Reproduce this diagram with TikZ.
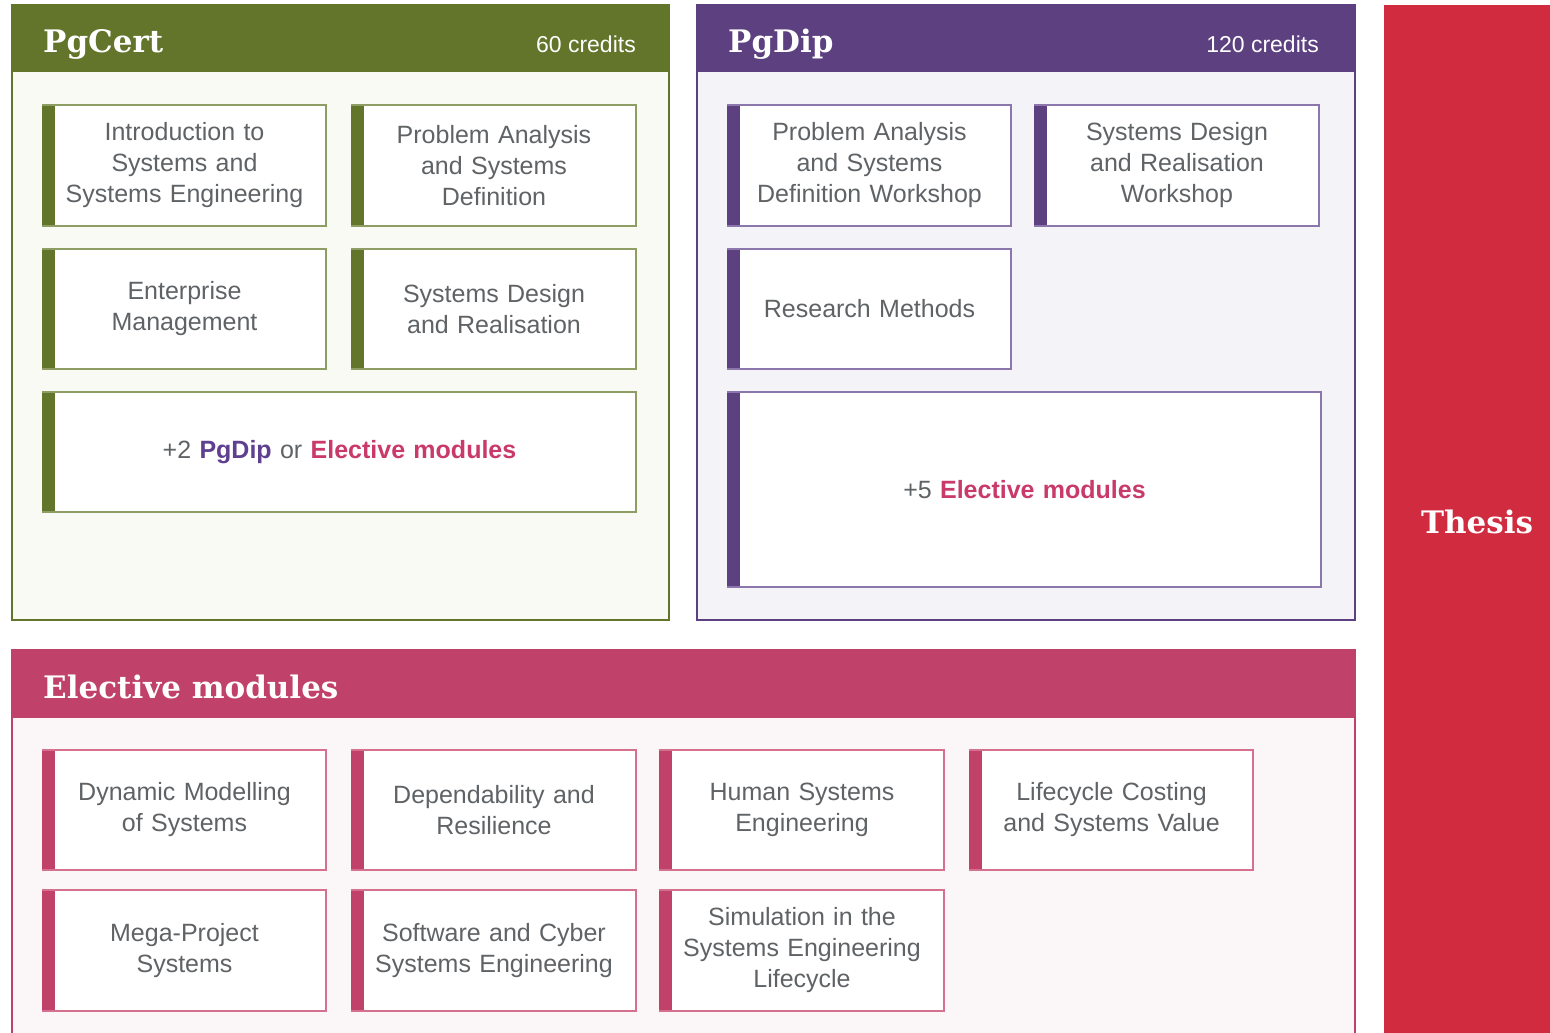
\documentclass[tikz,border=0pt]{standalone}
\usepackage{fontspec}
\setmainfont{Liberation Sans}
\newfontfamily\headfont{DejaVu Serif}
\definecolor{certc}{HTML}{62752A}
\definecolor{certl}{HTML}{8E9D63}
\definecolor{certbg}{HTML}{F9FAF4}
\definecolor{dipc}{HTML}{5C4080}
\definecolor{dipl}{HTML}{8B77AB}
\definecolor{dipbg}{HTML}{F4F3F8}
\definecolor{elc}{HTML}{C0426A}
\definecolor{ell}{HTML}{D5708F}
\definecolor{elbg}{HTML}{FBF6F8}
\definecolor{thc}{HTML}{D12B40}
\definecolor{txt}{HTML}{606366}
\definecolor{pgdiptxt}{HTML}{5E3F90}
\definecolor{eltxt}{HTML}{C93A6A}
\newcommand\modbox[7]{%
  \pgfmathsetmacro\modtw{#4-12}%
  \node[modnode, draw=#6l, text width=\modtw pt] (#1) at (#2,#3) [minimum width=#4pt, minimum height=#5pt] {#7};
  \fill[#6c] ([xshift=-1pt,yshift=-1pt]#1.north west) rectangle ([xshift=12pt,yshift=1pt]#1.south west);
}
\begin{document}
\begin{tikzpicture}[x=1pt,y=-1pt,
  frame/.style={draw=#1, line width=2.5pt, anchor=north west, inner sep=0pt, outer sep=0pt},
  band/.style={fill=#1, anchor=north west, inner sep=0pt, outer sep=0pt},
  headtxt/.style={text=white, font=\headfont\bfseries\fontsize{31}{36}\selectfont, anchor=base west, inner sep=0pt},
  credtxt/.style={text=white, font=\fontsize{23}{27}\selectfont, anchor=base east, inner sep=0pt},
  modnode/.style={fill=white, line width=2pt, inner sep=0pt, outer sep=0pt, text=txt,
     align=center, font=\fontsize{25}{31}\selectfont},
]
\useasboundingbox (0,0) rectangle (1550,1033);

% PgCert
\node[frame=certc, fill=certbg, minimum width=657pt, minimum height=615pt] (cert) at (12,5) {};
\node[band=certc, minimum width=657pt, minimum height=67pt] (certhead) at (12,5) {};
\node[headtxt] (certtitle) at (43,53) {PgCert};
\node[credtxt] (certcred) at (636,53) {60 credits};

% PgDip
\node[frame=dipc, fill=dipbg, minimum width=658pt, minimum height=615pt] (dip) at (697,5) {};
\node[band=dipc, minimum width=658pt, minimum height=67pt] (diphead) at (697,5) {};
\node[headtxt] (diptitle) at (728,53) {PgDip};
\node[credtxt] (dipcred) at (1319,53) {120 credits};

% Electives
\node[frame=elc, fill=elbg, minimum width=1343pt, minimum height=420pt] (elec) at (12,650) {};
\node[band=elc, minimum width=1343pt, minimum height=68pt] (elechead) at (12,650) {};
\node[headtxt] (electitle) at (43,698) {Elective modules};

% Thesis
\node[band=thc, minimum width=166pt, minimum height=1040pt] (thesis) at (1384,5) {};
\node[text=white, font=\headfont\bfseries\fontsize{31}{36}\selectfont, inner sep=0pt] (thesistxt) at (1477,522) {Thesis};

% PgCert modules
\modbox{intro}{184.5}{165.5}{283}{121}{cert}{Introduction to\\Systems and\\Systems Engineering}
\modbox{pad}{494}{165.5}{284}{121}{cert}{Problem Analysis\\and Systems\\Definition}
\modbox{ent}{184.5}{309}{283}{120}{cert}{Enterprise\\Management}
\modbox{sdr}{494}{309}{284}{120}{cert}{Systems Design\\and Realisation}
\modbox{plustwo}{339.5}{452}{593}{120}{cert}{+2 \textbf{\textcolor{pgdiptxt}{PgDip}} or \textbf{\textcolor{eltxt}{Elective modules}}}

% PgDip modules
\modbox{padw}{869.5}{165.5}{283}{121}{dip}{Problem Analysis\\and Systems\\Definition Workshop}
\modbox{sdrw}{1177}{165.5}{284}{121}{dip}{Systems Design\\and Realisation\\Workshop}
\modbox{rm}{869.5}{309}{283}{120}{dip}{Research Methods}
\modbox{plusfive}{1024.5}{489.5}{593}{195}{dip}{+5 \textbf{\textcolor{eltxt}{Elective modules}}}

% Elective modules
\modbox{dms}{184.5}{810}{283}{120}{el}{Dynamic Modelling\\of Systems}
\modbox{dar}{494}{810}{284}{120}{el}{Dependability and\\Resilience}
\modbox{hse}{802}{810}{284}{120}{el}{Human Systems\\Engineering}
\modbox{lcc}{1111.5}{810}{283}{120}{el}{Lifecycle Costing\\and Systems Value\\[6pt]}
\modbox{mps}{184.5}{950.5}{283}{121}{el}{Mega-Project\\Systems}
\modbox{scs}{494}{950.5}{284}{121}{el}{Software and Cyber\\Systems Engineering}
\modbox{sim}{802}{950.5}{284}{121}{el}{Simulation in the\\Systems Engineering\\Lifecycle}
\end{tikzpicture}
\end{document}
